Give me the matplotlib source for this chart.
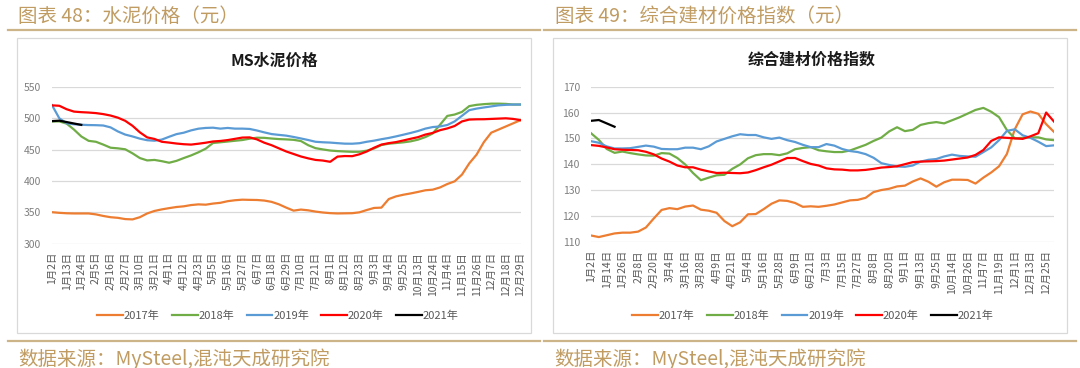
import numpy as np
import matplotlib
matplotlib.use("Agg")
from matplotlib import pyplot as plt
from matplotlib.lines import Line2D
from matplotlib.patches import Rectangle

plt.rcParams['font.family'] = ['Noto Sans CJK SC', 'DejaVu Sans']

# x categories (trading days); values read every half label step
labels_cement = ["1月2日", "1月13日", "1月24日", "2月5日", "2月16日", "2月27日", "3月10日",
                 "3月21日", "4月1日", "4月12日", "4月23日", "5月5日", "5月16日", "5月27日",
                 "6月7日", "6月18日", "6月29日", "7月10日", "7月21日", "8月1日", "8月12日",
                 "8月23日", "9月3日", "9月14日", "9月25日", "10月13日", "10月24日", "11月4日",
                 "11月15日", "11月26日", "12月7日", "12月18日", "12月29日"]
labels_index = ["1月2日", "1月14日", "1月26日", "2月8日", "2月20日", "3月4日", "3月16日",
                "3月28日", "4月9日", "4月21日", "5月4日", "5月16日", "5月28日", "6月9日",
                "6月21日", "7月3日", "7月15日", "7月27日", "8月8日", "8月20日", "9月1日",
                "9月13日", "9月25日", "10月14日", "10月26日", "11月7日", "11月19日",
                "12月1日", "12月13日", "12月25日"]
years = ["2017年", "2018年", "2019年", "2020年", "2021年"]

# MS水泥价格
cement_2017 = [350, 349, 348.3, 348, 348, 348, 346.5, 344, 342, 341,
               339, 338.5, 342, 348, 352, 354.5, 356.5, 358.3, 359.4, 361.4,
               362.5, 362, 363.8, 365, 367.6, 369.1, 370, 369.7, 369.5, 368.6,
               366.5, 362.6, 357.3, 352.5, 354.2, 353, 351, 349.5, 348.5, 348,
               348.2, 348.4, 349.8, 353.5, 356.8, 357.3, 371, 375.3, 377.9, 380,
               382.4, 385, 386, 389.5, 395, 399.3, 410, 428, 442, 462,
               477, 482, 487, 492, 497]
cement_2018 = [495, 495, 491.5, 482, 471, 464, 462.5, 458, 453, 452,
               450.5, 444, 436.5, 432.7, 433.5, 431.5, 429, 432, 436.5, 440.7,
               445.7, 451.5, 460.6, 461.7, 462.9, 464.1, 465.3, 467.4, 469, 468.8,
               467.7, 466.8, 466.3, 465.6, 463.7, 457, 452.3, 450.3, 448.5, 447.6,
               447, 446.5, 446.5, 448.3, 451.8, 457.3, 459.4, 460.5, 461.6, 463.2,
               465.9, 470, 475.7, 489.6, 503.8, 506, 510.2, 519.5, 521.5, 522.6,
               523.4, 523.4, 523, 522, 522]
cement_2019 = [521, 500, 492, 490.5, 489.7, 489.2, 489, 488.5, 485.5, 479,
               474, 471, 467.5, 465, 464.2, 466, 470.5, 474.7, 477, 480.7,
               483.4, 484.6, 485, 483.5, 484.6, 483.5, 483.5, 483, 480.5, 477.5,
               474.8, 473.5, 472.3, 470.2, 467.8, 465.3, 462.5, 461.7, 461.2, 460.3,
               459.5, 459.4, 460.2, 462.5, 464.3, 466.6, 468.6, 471.1, 473.8, 476.6,
               479.7, 483.5, 486, 487, 489.3, 495, 504, 513, 515.5, 517.3,
               519, 520.7, 521.5, 522, 522]
cement_2020 = [520.7, 520, 514.5, 510.7, 509.8, 509.2, 508.3, 506.7, 504.4, 501,
               496, 488, 477.6, 469.5, 467, 462.5, 461.2, 459.7, 458.6, 458,
               459.4, 461, 463, 463.8, 465.2, 467.2, 469.2, 469.5, 466.3, 461,
               457, 452, 447, 443, 439, 436, 433.5, 432.5, 430.5, 438.8,
               439.7, 439.5, 442.5, 447, 453, 458, 460.3, 462, 464.6, 467.3,
               469.9, 474, 476.6, 481, 483.8, 487.7, 495, 498, 498.4, 498.5,
               499, 499.5, 500, 499, 497]
cement_2021 = [495.5, 496.2, 494, 491.7, 489.5]

# 综合建材价格指数
index_2017 = [112.4, 111.8, 112.5, 113.2, 113.5, 113.5, 113.9, 115.5, 119, 122.3,
              123, 122.6, 123.6, 124, 122.4, 122, 121.2, 118, 116, 117.5,
              120.6, 120.7, 122.6, 124.7, 126, 125.8, 125, 123.5, 123.7, 123.5,
              123.9, 124.4, 125.2, 126, 126.2, 127, 129.2, 130, 130.5, 131.4,
              131.7, 133.3, 134.5, 133.2, 131.3, 133, 134, 134, 133.9, 132.5,
              134.8, 136.8, 139.2, 144, 153.5, 159.3, 160.4, 159.5, 155.5, 152.5]
index_2018 = [152, 149.4, 145.9, 144.4, 144.9, 144.3, 143.8, 143.4, 143.3, 144.3,
              144.1, 142.4, 139.9, 136.6, 133.8, 134.8, 135.7, 135.9, 138.2, 139.9,
              142.3, 143.5, 143.9, 143.9, 143.5, 144.2, 145.8, 146.3, 146.6, 145.4,
              145, 144.7, 144.7, 145.3, 146.4, 147.5, 149, 150.3, 152.7, 154.3,
              152.8, 153.3, 155.2, 155.9, 156.3, 155.8, 157, 158.2, 159.6, 161,
              161.8, 160.3, 158.2, 153.2, 150, 150.2, 150.4, 150.4, 149.6, 149.3]
index_2019 = [148.9, 148.3, 146.9, 146.1, 146.1, 146.2, 146.7, 147.2, 146.8, 145.9,
              145.8, 145.8, 146.4, 146.4, 145.8, 146.9, 148.8, 149.8, 150.8, 151.6,
              151.3, 151.3, 150.4, 149.8, 150.3, 149.3, 148.6, 147.5, 146.6, 146.6,
              147.8, 147.2, 145.9, 145.1, 144.7, 143.9, 142.5, 140.4, 139.7, 139.1,
              139, 139.5, 141, 141.7, 142, 143, 143.7, 143.2, 143, 142.9,
              144.7, 146.5, 149.3, 152.9, 153.5, 151.2, 150.2, 148.7, 147, 147.3]
index_2020 = [147.4, 147.1, 146.5, 145.8, 145.6, 145.5, 145.4, 144.8, 143.8, 142.2,
              141, 139.5, 138.8, 138.8, 137.9, 137.2, 136.6, 136.7, 136.6, 136.5,
              136.8, 137.7, 138.8, 139.8, 141.1, 142.4, 142.4, 141.2, 140.1, 139.5,
              138.4, 138, 137.9, 137.6, 137.6, 137.8, 138.2, 138.7, 138.9, 139.2,
              140, 140.8, 141, 141.1, 141.2, 141.4, 141.8, 142.2, 142.6, 143.6,
              145.5, 149, 150.4, 150.2, 150, 149.8, 150.8, 152, 160, 156.5]
index_2021 = [156.8, 157.1, 155.8, 154.5]

colors = ['#ED7D31', '#70AD47', '#5B9BD5', '#FF0000', '#000000']
gold = '#C09C62'
rule = '#CDB488'
grey = '#595959'

W, H = 1080, 368
fig = plt.figure(figsize=(W / 100, H / 100), dpi=100)


def rect(x0, y0, x1, y1):
    return [x0 / W, 1 - y1 / H, (x1 - x0) / W, (y1 - y0) / H]


def hline(x0, x1, y):
    fig.add_artist(Line2D([x0 / W, x1 / W], [1 - y / H, 1 - y / H], color=rule, lw=1.6))


def panel(box, area, title, head, labels, series, yticks, ylim, xmax, title_xy, leg_xy, fig_title_x, half):
    bx0, by0, bx1, by1 = box
    fig.add_artist(Rectangle((bx0 / W, 1 - by1 / H), (bx1 - bx0) / W, (by1 - by0) / H,
                             transform=fig.transFigure, fill=False, edgecolor='#D9D9D9', lw=0.9))
    fig.text(fig_title_x / W, 1 - 16 / H, head, fontsize=14, color=gold, va='center')
    hline(bx0 - 9, bx0 + 523, 30)
    hline(bx0 - 9, bx0 + 523, 341)
    fig.text((bx0 + 1) / W, 1 - 359 / H, "数据来源：MySteel,混沌天成研究院", fontsize=14,
             color=gold, va='center')
    fig.text(title_xy[0] / W, 1 - title_xy[1] / H, title, fontsize=11.5, fontweight='bold',
             color='#1a1a1a', ha='center', va='center')

    ax = fig.add_axes(rect(*area))
    for vals, c, name in zip(series, colors, years):
        x = np.arange(len(vals)) / half
        ax.plot(x, vals, color=c, lw=1.6, label=name, solid_joinstyle='round')
    ax.set_xlim(0, xmax)
    ax.set_ylim(*ylim)
    ax.set_yticks(yticks)
    ax.set_xticks(np.arange(len(labels)))
    ax.set_xticklabels(labels, rotation=90, ha='center', va='top')
    ax.tick_params(axis='x', length=0, pad=6, labelsize=7.5, labelcolor=grey)
    ax.tick_params(axis='y', length=0, pad=8, labelsize=7.5, labelcolor='#7F7F7F')
    ax.grid(axis='y', color='#D9D9D9', lw=0.9)
    ax.set_axisbelow(True)
    for s in ax.spines.values():
        s.set_visible(False)
    leg = ax.legend(loc='center', bbox_to_anchor=(leg_xy[0] / W, 1 - leg_xy[1] / H),
                    bbox_transform=fig.transFigure, ncol=5, frameon=False, fontsize=8,
                    handlelength=2.3, handletextpad=0.1, columnspacing=1.1)
    for t in leg.get_texts():
        t.set_color(grey)
    return ax


panel((17, 38, 531, 333), (52, 87, 520.5, 243.5), "MS水泥价格", "图表 48：水泥价格（元）",
      labels_cement, [cement_2017, cement_2018, cement_2019, cement_2020, cement_2021],
      np.arange(300, 551, 50), (300, 550), 32, (274, 61), (278, 316), 18, 2)

panel((553, 38, 1067, 333), (591, 86.7, 1054, 241.7), "综合建材价格指数",
      "图表 49：综合建材价格指数（元）",
      labels_index, [index_2017, index_2018, index_2019, index_2020, index_2021],
      np.arange(110, 171, 10), (110, 170), 29.5, (812, 60), (813, 316), 555, 2)

fig.savefig("out.png", dpi=100, facecolor='white')
